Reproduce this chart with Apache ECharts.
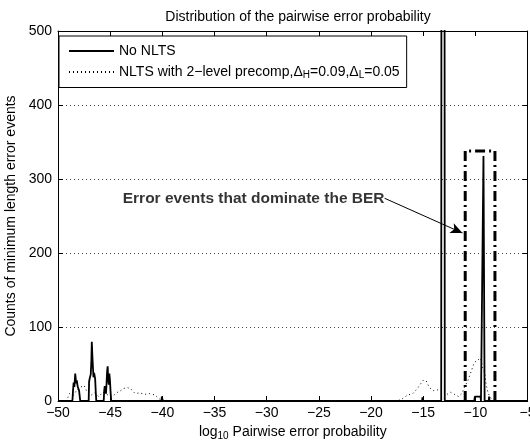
<!DOCTYPE html>
<html>
<head>
<meta charset="utf-8">
<script src="https://cdn.jsdelivr.net/npm/echarts@6/dist/echarts.min.js"></script>
<style>
  html, body { margin: 0; padding: 0; background: #fff; }
  #chart { width: 530px; height: 442px; }
</style>
</head>
<body>
<div id="chart"></div>
<script>
// "No NLTS" curve (solid)
const noNltsX = [-50, -48.62, -48.56, -48.5, -48.43, -48.35, -48.3, -48.26, -48.2, -48.12, -48.05, -47.98, -47.93, -47.87,
  -47.06, -47.02, -46.97, -46.92, -46.86, -46.8, -46.76, -46.71, -46.66, -46.6, -46.54, -46.49, -46.44, -46.38, -46.33,
  -45.62, -45.57, -45.52, -45.46, -45.4, -45.34, -45.29, -45.24, -45.19, -45.13, -45.08, -45.02, -44.96, -44.9,
  -40.08, -40.05, -39.98, -39.95,
  -15.1, -15.07, -15.03, -15.0,
  -13.27, -13.25, -12.95, -12.93,
  -10.1, -10.05, -9.5, -9.46,
  -9.32, -9.22, -9.11,
  -8.72, -8.68, -8.64, -5];
const noNltsY = [0, 0, 14, 25, 19, 37, 30, 24, 28, 20, 22, 14, 8, 0,
  0, 26, 30, 28, 36, 55, 80, 62, 48, 32, 38, 39, 30, 12, 0,
  0, 14, 20, 18, 10, 26, 40, 47, 30, 22, 37, 28, 12, 0,
  0, 6, 6, 0,
  0, 5, 5, 0,
  0, 600, 600, 0,
  0, 6, 6, 0,
  0, 331, 0,
  0, 6, 0, 0];

// "NLTS with 2-level precomp" curve (dotted)
const nltsX = [-50, -49.2, -48.9, -48.5, -48.2, -47.8, -47.5, -47.2, -46.8, -46.5, -46.1,
  -45.7, -45.2, -44.8, -44.4, -44.0, -43.7, -43.3, -43.0, -42.6, -42.2, -41.7, -41.2,
  -40.7, -40.3, -40.0,
  -17.5, -17.0, -16.5, -16.0, -15.6, -15.3, -15.0, -14.7, -14.4, -14.0, -13.6, -13.2,
  -12.8, -12.4, -12.0, -11.6, -11.3, -11.0, -10.7, -10.4, -10.1, -9.8, -9.5, -9.3,
  -9.1, -9.0, -8.8, -8.6, -8.3, -8.0, -5];
const nltsY = [0, 0, 10, 8, 15, 19, 21, 12, 8, 11, 6,
  12, 8, 6, 11, 14, 17, 18, 16, 10, 11, 9, 10,
  8, 3, 0,
  0, 3, 8, 10, 16, 22, 28, 27, 18, 14, 15, 13,
  8, 12, 9, 6, 10, 20, 28, 40, 52, 55, 58, 45,
  38, 25, 12, 5, 2, 0, 0];

// dash-dot box around the dominating events
const boxX = [-10.97, -10.97, -8.12, -8.12];
const boxY = [0, 338, 338, 0];

// annotation
const noteText = 'Error events that dominate the BER';
const noteAt = [-18.7, 274];
const arrowTo = [-11.23, 227];

const xMin = -50, xMax = -5, xStep = 5;
const yMin = 0, yMax = 500, yStep = 100;

const pairs = (xs, ys) => xs.map((x, i) => [x, ys[i]]);
const minus = v => String(v).replace('-', '\u2212');

const chart = echarts.init(document.getElementById('chart'));
const font = 'Liberation Sans, Arial, Helvetica, sans-serif';
const nltsName = 'NLTS with 2\u2212level precomp,\u0394_H=0.09,\u0394_L=0.05';

const option = {
  animation: false,
  backgroundColor: '#fff',
  textStyle: { fontFamily: font, color: '#000' },
  title: {
    text: 'Distribution of the pairwise error probability',
    left: 293,
    textAlign: 'center',
    top: 5,
    textStyle: { fontSize: 14, fontWeight: 'normal', color: '#000', fontFamily: font }
  },
  legend: {
    data: ['No NLTS', nltsName],
    orient: 'vertical',
    left: 59,
    top: 36,
    padding: [8, 7, 7, 9],
    itemGap: 7,
    itemWidth: 45,
    itemHeight: 14,
    borderColor: '#000',
    borderWidth: 1,
    backgroundColor: '#fff',
    itemStyle: { opacity: 0 },
    formatter: name => name.replace('\u0394_H', '\u0394{sub|H}').replace('\u0394_L', '\u0394{sub|L}'),
    textStyle: {
      fontSize: 14, color: '#000', fontFamily: font,
      rich: { sub: { fontSize: 10, padding: [7, 0, 0, 0], fontFamily: font, color: '#000' } }
    }
  },
  grid: { left: 58, right: 2.5, top: 31, bottom: 41, outerBoundsMode: 'none' },
  xAxis: [{
    type: 'value', min: xMin, max: xMax, interval: xStep,
    name: '{a|log}{sub|10}{a| Pairwise error probability}',
    nameLocation: 'middle', nameGap: 21,
    nameTextStyle: {
      fontSize: 14, color: '#000', fontFamily: font,
      rich: {
        a: { fontSize: 14, fontFamily: font, color: '#000' },
        sub: { fontSize: 10, padding: [8, 0, 0, 0], fontFamily: font, color: '#000' }
      }
    },
    axisLine: { show: true, onZero: false, lineStyle: { color: '#000', width: 1 } },
    axisTick: { inside: true, length: 5, lineStyle: { color: '#000' } },
    axisLabel: { fontSize: 14, color: '#000', margin: 5, formatter: minus },
    splitLine: { show: false }
  }, {
    type: 'value', min: xMin, max: xMax, interval: xStep, position: 'top',
    axisLine: { show: true, onZero: false, lineStyle: { color: '#000', width: 1 } },
    axisTick: { inside: true, length: 5, lineStyle: { color: '#000' } },
    axisLabel: { show: false },
    splitLine: { show: false }
  }],
  yAxis: [{
    type: 'value', min: yMin, max: yMax, interval: yStep,
    name: 'Counts of minimum length error events',
    nameLocation: 'middle', nameGap: 36,
    nameTextStyle: { fontSize: 14, color: '#000', fontFamily: font },
    axisLine: { show: true, onZero: false, lineStyle: { color: '#000', width: 1 } },
    axisTick: { inside: true, length: 5, lineStyle: { color: '#000' } },
    axisLabel: { fontSize: 14, color: '#000', margin: 6 },
    splitLine: { show: true, lineStyle: { color: '#444', width: 1, type: [1, 3] } }
  }, {
    type: 'value', min: yMin, max: yMax, interval: yStep, position: 'right',
    axisLine: { show: true, onZero: false, lineStyle: { color: '#000', width: 1 } },
    axisTick: { inside: true, length: 5, lineStyle: { color: '#000' } },
    axisLabel: { show: false },
    splitLine: { show: false }
  }],
  series: [
    {
      name: 'No NLTS',
      type: 'line',
      symbol: 'none',
      data: pairs(noNltsX, noNltsY),
      lineStyle: { color: '#000', width: 1.8 },
      itemStyle: { color: '#000' },
      z: 3
    },
    {
      name: nltsName,
      type: 'line',
      symbol: 'none',
      data: pairs(nltsX, nltsY),
      lineStyle: { color: '#000', width: 1, type: [1, 3] },
      itemStyle: { color: '#000' },
      z: 2
    },
    {
      name: 'box',
      type: 'line',
      symbol: 'none',
      data: pairs(boxX, boxY),
      lineStyle: { color: '#000', width: 3, type: [10, 4, 2, 4] },
      z: 4,
      markLine: {
        silent: true,
        symbol: ['none', 'arrow'],
        symbolSize: [8, 12],
        label: { show: false },
        lineStyle: { color: '#000', width: 1, type: 'solid' },
        data: [[{ coord: noteAt }, { coord: arrowTo }]]
      }
    },
    {
      name: 'note',
      type: 'scatter',
      symbolSize: 0,
      data: [noteAt],
      label: {
        show: true,
        position: 'left',
        distance: 0,
        formatter: noteText,
        fontSize: 15.5,
        fontWeight: 'bold',
        color: '#000',
        fontFamily: font
      },
      z: 5
    }
  ]
};

chart.setOption(option);
</script>
</body>
</html>
